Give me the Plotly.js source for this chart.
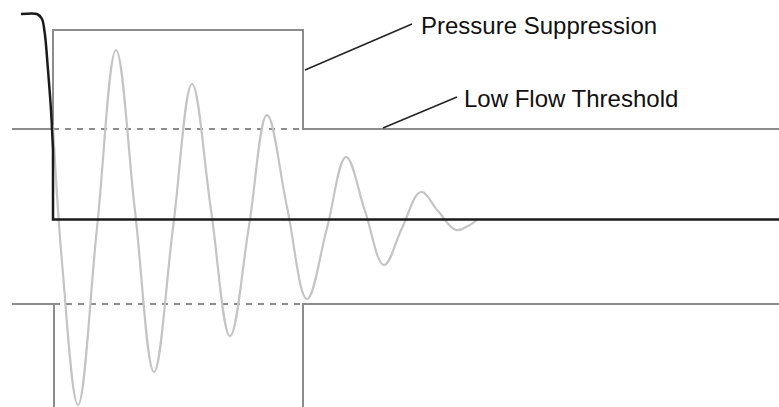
<!DOCTYPE html>
<html>
<head>
<meta charset="utf-8">
<script src="https://cdn.plot.ly/plotly-3.0.1.min.js"></script>
<style>html,body{margin:0;padding:0;background:#fff;}#chart{width:779px;height:407px;}</style>
</head>
<body>
<div id="chart"></div>
<script>
// Schematic values (plotted in the picture's own units: x right, y down)
const flowBendX = [21, 37, 42, 45, 48, 51, 53];
const flowBendY = [14, 14, 19, 35, 70, 110, 150];
const flowFlatX = [53, 53, 779];
const flowFlatY = [150, 219.5, 219.5];

const oscX = [53, 62, 78, 97, 116, 135, 154, 173, 192, 211, 230, 249, 267, 287, 307, 327, 346, 365, 384, 402, 421, 438, 456, 468, 477];
const oscY = [125, 262, 405, 228, 50, 211, 372, 228, 84, 210, 336, 226, 115, 207, 299, 228, 157, 211, 265, 228, 192, 211, 230, 226, 220];

const supTopX = [12, 53, 53, 303, 303, 779];
const supTopY = [129, 129, 30, 30, 129, 129];
const supBotX = [12, 54, 54, null, 779, 303, 303];
const supBotY = [304, 304, 407, null, 304, 304, 407];

const dashTopX = [53, 303];
const dashTopY = [129, 129];
const dashBotX = [54, 303];
const dashBotY = [304, 304];

const labels = ["Pressure Suppression", "Low Flow Threshold"];
const labelX = [419, 462];
const labelY = [25, 98];
const leaderX = [[305, 412], [383, 457]];
const leaderY = [[70, 24], [128, 97]];

const traces = [
  {x: dashTopX, y: dashTopY, mode: 'lines', line: {color: '#8c8c8c', width: 2, dash: '6px,6px'}},
  {x: dashBotX, y: dashBotY, mode: 'lines', line: {color: '#8c8c8c', width: 2, dash: '6px,6px'}},
  {x: supTopX, y: supTopY, mode: 'lines', line: {color: '#8c8c8c', width: 2}},
  {x: supBotX, y: supBotY, mode: 'lines', connectgaps: false, line: {color: '#8c8c8c', width: 2}},
  {x: oscX, y: oscY, mode: 'lines', line: {color: '#c4c4c4', width: 2.2, shape: 'spline', smoothing: 1.1}},
  {x: flowBendX, y: flowBendY, mode: 'lines', line: {color: '#1a1a1a', width: 2.5, shape: 'spline', smoothing: 0.8}},
  {x: flowFlatX, y: flowFlatY, mode: 'lines', line: {color: '#1a1a1a', width: 2.5}},
  {x: leaderX[0], y: leaderY[0], mode: 'lines', line: {color: '#222', width: 1.5}},
  {x: leaderX[1], y: leaderY[1], mode: 'lines', line: {color: '#222', width: 1.5}}
];

const annotations = labels.map((t, i) => ({
  x: labelX[i], y: labelY[i], xref: 'x', yref: 'y', text: t, showarrow: false,
  xanchor: 'left', yanchor: 'middle',
  font: {family: 'Liberation Sans, Arial, sans-serif', size: 24, color: '#111'}
}));

const layout = {
  width: 779, height: 407,
  margin: {l: 0, r: 0, t: 0, b: 0},
  paper_bgcolor: '#fff', plot_bgcolor: '#fff',
  showlegend: false,
  xaxis: {range: [0, 779], visible: false, fixedrange: true},
  yaxis: {range: [407, 0], visible: false, fixedrange: true},
  annotations: annotations
};

Plotly.newPlot('chart', traces, layout, {staticPlot: true, displayModeBar: false});
</script>
</body>
</html>
